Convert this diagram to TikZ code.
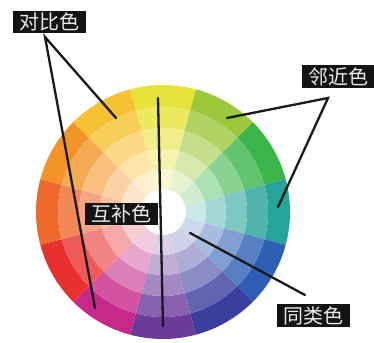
\documentclass[tikz,border=0pt]{standalone}
\usepackage{fontspec}
\newfontfamily\cjk{Noto Sans CJK SC}
\usetikzlibrary{positioning,calc}
\definecolor{cwY}{HTML}{E8E33A}
\definecolor{cwYG}{HTML}{9CC83C}
\definecolor{cwG}{HTML}{3BB54A}
\definecolor{cwT}{HTML}{26A39A}
\definecolor{cwB}{HTML}{2F5FB5}
\definecolor{cwI}{HTML}{3A3F9E}
\definecolor{cwV}{HTML}{6A3B9B}
\definecolor{cwM}{HTML}{C8288A}
\definecolor{cwR}{HTML}{E8302E}
\definecolor{cwRO}{HTML}{EE6A2C}
\definecolor{cwO}{HTML}{F39428}
\definecolor{cwYO}{HTML}{F6C232}
\tikzset{
  tag/.style={fill=black!92,text=white!92!black,font=\cjk\fontsize{20}{20}\selectfont,minimum width=73pt,minimum height=22.5pt,inner sep=0pt},
  pointer/.style={line width=2.3pt,black!90,line cap=round},
}
\begin{document}
\begin{tikzpicture}[x=1pt,y=1pt]
\useasboundingbox (0,0) rectangle (374,342);
% colour wheel
\begin{scope}[shift={(163,130)}]
  \foreach \ang/\col in {90/cwY,60/cwYG,30/cwG,0/cwT,-30/cwB,-60/cwI,-90/cwV,-120/cwM,-150/cwR,180/cwRO,150/cwO,120/cwYO} {
    \foreach \ra/\rb/\t in {105/127/100,84/105/80,63/84/60,43/63/42,22/43/24} {
      \fill[\col!\t!white] (\ang-15:\ra) arc (\ang-15:\ang+15:\ra) -- (\ang+15:\rb) arc (\ang+15:\ang-15:\rb) -- cycle;
    }
  }
  \fill[white] (0,0) circle (23);
\end{scope}
% labels
\node[tag] (duibi) at (49.5,320) {对比色};
\node[tag] (linjin) at (338,265.5) {邻近色};
\node[tag] (hubu) at (121.5,128) {互补色};
\node[tag] (tonglei) at (313.5,26.5) {同类色};
% pointers
\coordinate (dbA) at (45,305);
\coordinate (dbE1) at (116,224);
\coordinate (dbE2) at (95,34);
\coordinate (hbT) at (158,244);
\coordinate (hbB) at (163,16);
\coordinate (ljA) at (328,244);
\coordinate (ljE1) at (227,224);
\coordinate (ljE2) at (278,135);
\coordinate (tlS) at (190,109);
\coordinate (tlE) at (305,47);
\draw[pointer] (dbE1) -- (dbA) -- (dbE2);
\draw[pointer] (hbT) -- (hbB);
\draw[pointer] (ljE1) -- (ljA) -- (ljE2);
\draw[pointer] (tlS) -- (tlE);
\end{tikzpicture}
\end{document}
